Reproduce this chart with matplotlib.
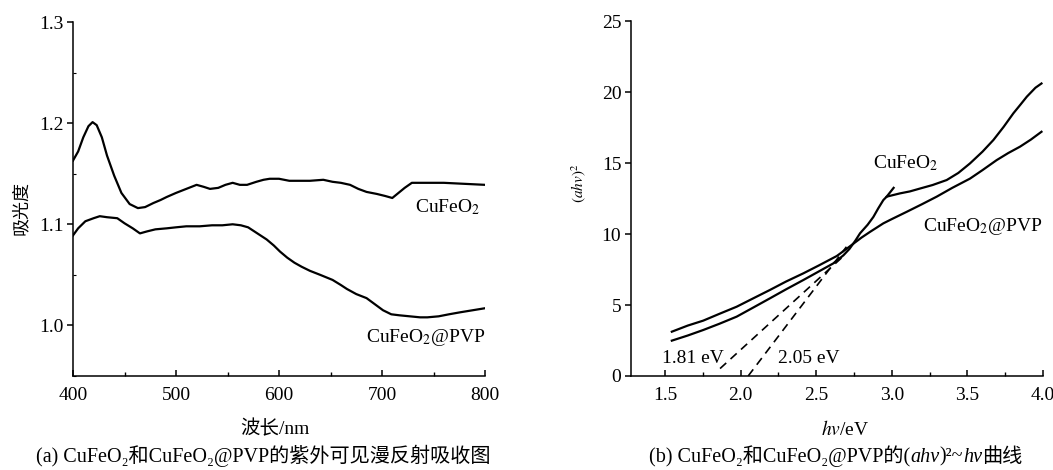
import matplotlib
matplotlib.use("Agg")
import matplotlib.pyplot as plt
from matplotlib.ticker import MultipleLocator, FormatStrFormatter
from matplotlib.offsetbox import TextArea, HPacker, AnchoredOffsetbox
import numpy as np

plt.rcParams['font.family'] = ['Liberation Serif', 'Noto Sans CJK SC', 'DejaVu Serif']
plt.rcParams['mathtext.fontset'] = 'stix'

# ---- (a) UV-vis diffuse reflectance absorption ----
wl_cufeo2 = [400, 405, 410, 415, 419, 423, 428, 433, 440, 447, 455, 463, 470, 478,
             485, 491, 500, 510, 520, 527, 533, 541, 548, 555, 562, 569, 578, 585,
             591, 600, 610, 620, 630, 643, 652, 660, 669, 677, 685, 695, 703, 710,
             716, 722, 729, 740, 760, 780, 800]
abs_cufeo2 = [1.163, 1.172, 1.186, 1.197, 1.201, 1.198, 1.186, 1.168, 1.148, 1.131,
              1.120, 1.116, 1.117, 1.121, 1.124, 1.127, 1.131, 1.135, 1.139, 1.137,
              1.135, 1.136, 1.139, 1.141, 1.139, 1.139, 1.142, 1.144, 1.145, 1.145,
              1.143, 1.143, 1.143, 1.144, 1.142, 1.141, 1.139, 1.135, 1.132, 1.130,
              1.128, 1.126, 1.131, 1.136, 1.141, 1.141, 1.141, 1.140, 1.139]

wl_pvp = [400, 405, 412, 420, 426, 433, 443, 450, 458, 465, 472, 480, 491, 500, 510,
          523, 535, 545, 555, 563, 570, 576, 582, 588, 595, 601, 608, 615, 622, 630,
          640, 652, 660, 666, 675, 685, 693, 701, 709, 717, 727, 737, 744, 755, 765,
          776, 788, 800]
abs_pvp = [1.089, 1.096, 1.103, 1.106, 1.108, 1.107, 1.106, 1.101, 1.096, 1.091,
           1.093, 1.095, 1.096, 1.097, 1.098, 1.098, 1.099, 1.099, 1.100, 1.099,
           1.097, 1.093, 1.089, 1.085, 1.079, 1.073, 1.067, 1.062, 1.058, 1.054,
           1.050, 1.045, 1.040, 1.036, 1.031, 1.027, 1.021, 1.015, 1.011, 1.010,
           1.009, 1.008, 1.008, 1.009, 1.011, 1.013, 1.015, 1.017]

# ---- (b) Tauc plot (ahv)^2 vs hv ----
hv_cufeo2 = [1.545, 1.65, 1.753, 1.86, 1.974, 2.08, 2.194, 2.30, 2.415, 2.51, 2.613,
             2.68, 2.72, 2.76, 2.79, 2.84, 2.878, 2.91, 2.944, 2.966, 3.054, 3.12,
             3.186, 3.27, 3.363, 3.44, 3.517, 3.60, 3.672, 3.74, 3.804, 3.85, 3.893,
             3.95, 3.99]
tauc_cufeo2 = [2.49, 2.85, 3.24, 3.68, 4.18, 4.80, 5.47, 6.10, 6.76, 7.32, 7.93,
               8.50, 8.95, 9.55, 10.05, 10.65, 11.20, 11.80, 12.39, 12.63, 12.86, 13.0,
               13.2, 13.45, 13.8, 14.3, 14.97, 15.8, 16.62, 17.55, 18.5, 19.1, 19.67,
               20.3, 20.6]
hv_spur = [2.966, 3.012]
tauc_spur = [12.63, 13.25]

hv_pvp = [1.545, 1.65, 1.753, 1.86, 1.974, 2.08, 2.194, 2.30, 2.415, 2.52, 2.636,
          2.70, 2.75, 2.80, 2.856, 2.90, 2.944, 3.0, 3.1, 3.2, 3.297, 3.4, 3.517,
          3.6, 3.693, 3.77, 3.848, 3.92, 3.99]
tauc_pvp = [3.12, 3.55, 3.90, 4.38, 4.88, 5.45, 6.06, 6.65, 7.23, 7.80, 8.45,
            8.95, 9.35, 9.75, 10.15, 10.45, 10.75, 11.05, 11.57, 12.1, 12.63, 13.25, 13.9,
            14.5, 15.2, 15.7, 16.15, 16.65, 17.2]

# band-gap extrapolation lines: intercept (eV), slope, drawn span
gap_values = [1.81, 2.05]
gap_slopes = [9.7, 14.0]
gap_start = [1.864, 2.05]
gap_end = [2.69, 2.70]
gap_labels = ['1.81 eV', '2.05 eV']

FS = 14
lw_curve = 1.6

fig = plt.figure(figsize=(10.53, 4.70), dpi=100)
ax1 = fig.add_axes([73 / 1053, 0.2, 412 / 1053, 1 - 22 / 470 - 0.2])
ax2 = fig.add_axes([631 / 1053, 0.2, 412 / 1053, 1 - 21 / 470 - 0.2])

for ax in (ax1, ax2):
    for s in ('top', 'right'):
        ax.spines[s].set_visible(False)
    for s in ('left', 'bottom'):
        ax.spines[s].set_linewidth(1.1)
    ax.tick_params(axis='x', which='major', direction='in', length=4, width=1.1,
                   pad=8, labelsize=FS)
    ax.tick_params(axis='x', which='minor', direction='in', length=3, width=1.0)
    ax.tick_params(axis='y', which='major', direction='out', length=4, width=1.1,
                   pad=3, labelsize=FS)
    ax.tick_params(axis='y', which='minor', direction='in', length=2, width=0.8)

# panel (a)
ax1.plot(wl_cufeo2, abs_cufeo2, color='black', lw=lw_curve)
ax1.plot(wl_pvp, abs_pvp, color='black', lw=lw_curve)
ax1.set_xlim(400, 800)
ax1.set_ylim(0.95, 1.3)
ax1.xaxis.set_major_locator(MultipleLocator(100))
ax1.xaxis.set_minor_locator(MultipleLocator(50))
ax1.yaxis.set_major_locator(MultipleLocator(0.1))
ax1.yaxis.set_minor_locator(MultipleLocator(0.05))
ax1.yaxis.set_major_formatter(FormatStrFormatter('%.1f'))
ax1.text(795, 1.117, r'CuFeO$_2$', ha='right', va='center', fontsize=FS)
ax1.text(800, 0.988, r'CuFeO$_2$@PVP', ha='right', va='center', fontsize=FS)
ax1.set_ylabel('吸光度', fontsize=13)
ax1.yaxis.set_label_coords(-0.104, 0.475)
ax1.set_xlabel('波长/nm', fontsize=14)

# panel (b)
ax2.plot(hv_cufeo2, tauc_cufeo2, color='black', lw=lw_curve)
ax2.plot(hv_spur, tauc_spur, color='black', lw=lw_curve)
ax2.plot(hv_pvp, tauc_pvp, color='black', lw=lw_curve)
for eg, k, x0, x1 in zip(gap_values, gap_slopes, gap_start, gap_end):
    xs = np.array([x0, x1])
    ax2.plot(xs, k * (xs - eg), color='black', lw=1.2, ls=(0, (5, 3.5)))
ax2.text(1.48, 1.2, gap_labels[0], ha='left', va='center', fontsize=FS)
ax2.text(2.247, 1.2, gap_labels[1], ha='left', va='center', fontsize=FS)
ax2.text(2.876, 15.0, r'CuFeO$_2$', ha='left', va='center', fontsize=FS)
ax2.text(3.206, 10.5, r'CuFeO$_2$@PVP', ha='left', va='center', fontsize=FS)
ax2.set_xlim(1.275, 4.0)
ax2.set_ylim(0, 25)
ax2.xaxis.set_major_locator(MultipleLocator(0.5))
ax2.xaxis.set_minor_locator(MultipleLocator(0.25))
ax2.yaxis.set_major_locator(MultipleLocator(5))
ax2.xaxis.set_major_formatter(FormatStrFormatter('%.1f'))
ax2.set_ylabel(r'$(ahv)^2$', fontsize=11)
ax2.yaxis.set_label_coords(-0.105, 0.544)
ax2.set_xlabel(r'$hv$/eV', fontsize=FS)

# axis titles at fixed heights below the tick labels
ax1.xaxis.set_label_coords(0.49, -0.125)
ax2.xaxis.set_label_coords(0.52, -0.125)

# captions
CAP = 14.5
fig.text(263 / 1053, 1 - 456 / 470, '(a) CuFeO₂和CuFeO₂@PVP的紫外可见漫反射吸收图',
         ha='center', va='center', fontsize=CAP)

up = dict(fontsize=CAP, family=['Liberation Serif', 'Noto Sans CJK SC', 'DejaVu Serif'])
it = dict(up, style='italic')
parts = [TextArea('(b) CuFeO₂和CuFeO₂@PVP的(', textprops=up),
         TextArea('ahv', textprops=it),
         TextArea(')²~', textprops=up),
         TextArea('hv', textprops=it),
         TextArea('曲线', textprops=up)]
box = HPacker(children=parts, align='baseline', pad=0, sep=0)
anch = AnchoredOffsetbox(loc='center', child=box, pad=0, borderpad=0, frameon=False,
                         bbox_to_anchor=(836 / 1053, 1 - 456 / 470),
                         bbox_transform=fig.transFigure)
fig.add_artist(anch)

fig.savefig('out.png', dpi=100)
